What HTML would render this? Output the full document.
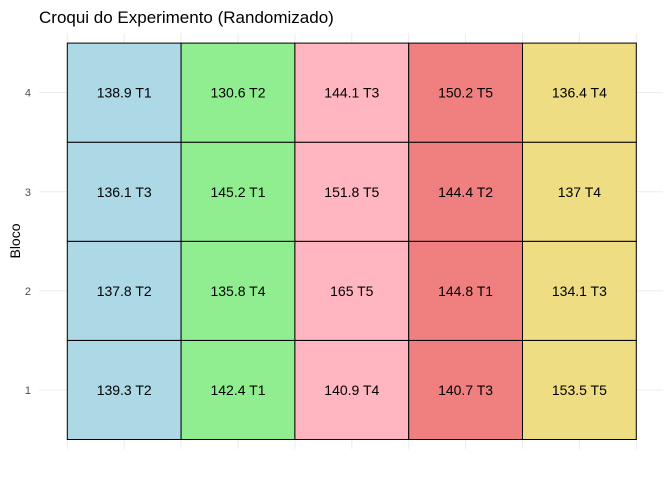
<!DOCTYPE html>
<html><head><meta charset="utf-8"><style>
body{margin:0;background:#fff;font-family:"Liberation Sans",sans-serif}
</style></head><body>
<svg id="c" width="672" height="480"></svg>
<script>
const cols=["c1","c2","c3","c4","c5"];
const blocks=[1,2,3,4];
const values=[[139.3,142.4,140.9,140.7,153.5],[137.8,135.8,165,144.8,134.1],[136.1,145.2,151.8,144.4,137],[138.9,130.6,144.1,150.2,136.4]];
const treats=[["T2","T1","T4","T3","T5"],["T2","T4","T5","T1","T3"],["T3","T1","T5","T2","T4"],["T1","T2","T3","T5","T4"]];
const colColors=["#add8e6","#90ee90","#ffb6c1","#f08080","#eedd82"];
const NS="http://www.w3.org/2000/svg";
const svg=document.getElementById('c');
function mk(t,a,p){const e=document.createElementNS(NS,t);for(const k in a)e.setAttribute(k,a[k]);(p||svg).appendChild(e);return e;}
const x0=67.3,cw=113.8,yBottom=439.5,rh=99.1;
const xs=i=>x0+i*cw;
const ys=b=>yBottom-b*rh;
// grid
for(let k=0;k<=10;k++){const g=mk('line',{x1:x0+k*cw/2,x2:x0+k*cw/2,y1:33,y2:449,stroke:'#ebebeb','stroke-width':1});

}
blocks.forEach((b,i)=>{const y=ys(i)-rh/2;const g=mk('line',{x1:39,x2:663,y1:y,y2:y,stroke:'#ebebeb','stroke-width':1});


const t=mk('text',{x:31,y:y+4,'text-anchor':'end','font-size':11,fill:'#4d4d4d'});t.textContent=b;

});
values.forEach((row,r)=>row.forEach((v,c)=>{
const rc=mk('rect',{x:xs(c),y:ys(r+1),width:cw,height:rh,fill:colColors[c],stroke:'#000','stroke-width':1});


const t=mk('text',{x:xs(c)+cw/2,y:ys(r)-rh/2+5,'text-anchor':'middle','font-size':14,fill:'#000'});
t.textContent=v+" "+treats[r][c];


}));
const yt=mk('text',{transform:'translate(20,241) rotate(-90)','text-anchor':'middle','font-size':14,fill:'#000'});yt.textContent='Bloco';


const ti=mk('text',{x:39,y:23,'font-size':17,fill:'#000'});ti.textContent='Croqui do Experimento (Randomizado)';


</script>
</body></html>
